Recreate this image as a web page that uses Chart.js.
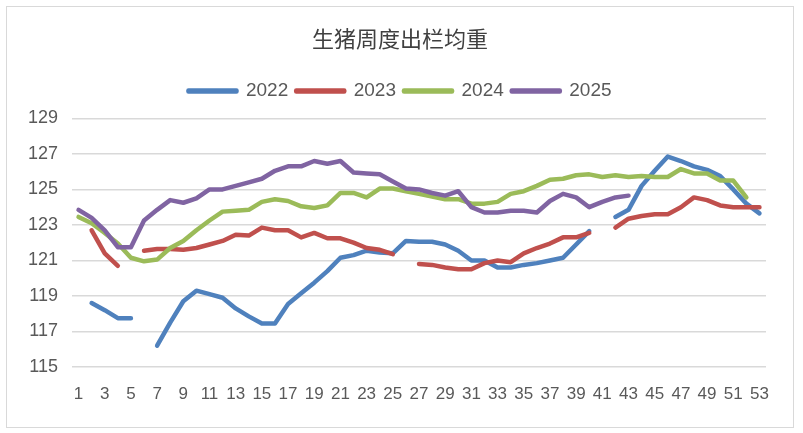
<!DOCTYPE html>
<html>
<head>
<meta charset="utf-8">
<script src="https://cdn.jsdelivr.net/npm/chart.js@4.4.1/dist/chart.umd.min.js"></script>
<style>
  html, body { margin: 0; padding: 0; background: #fff; }
  #frame { position: absolute; left: 6px; top: 6px; width: 786px; height: 420px; border: 1.5px solid #d9d9d9; }
  #wrap { position: absolute; left: 0; top: 0; width: 803px; height: 433px; }
</style>
</head>
<body>
<div id="frame"></div>
<div id="wrap"><canvas id="chart" width="803" height="433"></canvas></div>
<script>
const weeks = [];
for (let i = 1; i <= 53; i++) weeks.push(String(i));

const y2022 = [null, 118.6, 118.2, 117.75, 117.75, null, 116.2, 117.5, 118.7, 119.3,
  119.1, 118.9, 118.3, 117.85, 117.45, 117.45, 118.55, 119.15, 119.75, 120.4,
  121.15, 121.3, 121.55, 121.45, 121.4, 122.1, 122.05, 122.05, 121.9, 121.55,
  121.0, 121.0, 120.6, 120.6, 120.75, 120.85, 121.0, 121.15, 121.9, 122.65,
  null, 123.45, 123.85, 125.2, 126.05, 126.85, 126.6, 126.3, 126.1, 125.75,
  125.0, 124.2, 123.65];
const y2023 = [null, 122.7, 121.4, 120.7, null, 121.55, 121.65, 121.65, 121.6, 121.7,
  121.9, 122.1, 122.45, 122.4, 122.85, 122.7, 122.7, 122.3, 122.55, 122.25,
  122.25, 122.0, 121.7, 121.6, 121.35, null, 120.8, 120.75, 120.6, 120.5,
  120.5, 120.85, 121.0, 120.9, 121.4, 121.7, 121.95, 122.3, 122.3, 122.55,
  null, 122.85, 123.35, 123.5, 123.6, 123.6, 124.0, 124.55, 124.4, 124.1,
  124.0, 124.0, 124.0];
const y2024 = [123.45, 123.1, 122.55, 121.95, 121.15, 120.95, 121.05, 121.7, 122.1, 122.7,
  123.25, 123.75, 123.8, 123.85, 124.3, 124.45, 124.35, 124.05, 123.95, 124.1,
  124.8, 124.8, 124.55, 125.05, 125.05, 124.9, 124.75, 124.6, 124.45, 124.45,
  124.2, 124.2, 124.3, 124.75, 124.9, 125.2, 125.55, 125.6, 125.8, 125.85,
  125.7, 125.8, 125.7, 125.75, 125.7, 125.7, 126.15, 125.9, 125.9, 125.5,
  125.5, 124.55, null];
const y2025 = [123.85, 123.4, 122.7, 121.75, 121.75, 123.25, 123.85, 124.4, 124.25, 124.5,
  125.0, 125.0, 125.2, 125.4, 125.6, 126.05, 126.3, 126.3, 126.6, 126.45,
  126.6, 125.95, 125.9, 125.85, 125.45, 125.05, 125.0, 124.8, 124.65, 124.9,
  124.0, 123.7, 123.7, 123.8, 123.8, 123.7, 124.35, 124.75, 124.55, 124.0,
  124.3, 124.55, 124.65];

const seriesNames = ['2022', '2023', '2024', '2025'];
const colors = ['#4F81BD', '#C0504D', '#9BBB59', '#8064A2'];
const values = [y2022, y2023, y2024, y2025];

const textColor = '#595959';

const datasets = values.map((v, i) => ({
  label: seriesNames[i],
  data: v,
  borderColor: colors[i],
  backgroundColor: colors[i],
  borderWidth: 4.5,
  borderCapStyle: 'round',
  borderJoinStyle: 'round',
  pointRadius: 0,
  pointHoverRadius: 0,
  tension: 0,
  spanGaps: false,
  order: 3 - i
}));

// a bit of extra room under the legend, before the plot
const legendGap = {
  id: 'legendGap',
  beforeLayout(chart) {
    const lg = chart.legend;
    if (lg && !lg._gapPatched) {
      const fit = lg.fit.bind(lg);
      lg.fit = function () { fit(); this.height += 8; };
      lg._gapPatched = true;
    }
  }
};

const config = {
  type: 'line',
  data: { labels: weeks, datasets },
  plugins: [legendGap],
  options: {
    responsive: false,
    animation: false,
    layout: { padding: { top: 8, right: 3, bottom: 24, left: 0 } },
    plugins: {
      title: {
        display: true,
        text: '生猪周度出栏均重',
        color: '#404040',
        font: { family: '"Noto Sans CJK SC"', size: 22, weight: 'normal' },
        padding: { top: 17, bottom: 22 }
      },
      legend: {
        display: true,
        labels: {
          color: textColor,
          font: { family: '"Liberation Sans"', size: 19 },
          boxWidth: 48,
          boxHeight: 1,
          padding: 8,
          sort: (a, b) => a.datasetIndex - b.datasetIndex
        }
      },
      tooltip: { enabled: false }
    },
    scales: {
      x: {
        offset: true,
        grid: { display: false, drawTicks: false },
        border: { display: false },
        ticks: {
          autoSkip: false,
          maxRotation: 0,
          padding: 17,
          color: textColor,
          font: { family: '"Liberation Sans"', size: 17 },
          callback: function (val, idx) { return idx % 2 === 0 ? weeks[idx] : ''; }
        },
        afterFit: function (scale) { scale.height = 42; }
      },
      y: {
        min: 115,
        max: 129,
        grid: { color: '#d9d9d9', lineWidth: 1.5, drawTicks: false },
        border: { display: false },
        ticks: {
          stepSize: 2,
          padding: 14,
          color: textColor,
          font: { family: '"Liberation Sans"', size: 18 }
        },
        afterFit: function (scale) { scale.width = 72; }
      },
      yRight: {
        position: 'right',
        grid: { display: false, drawTicks: false },
        border: { display: false },
        ticks: { display: false },
        afterFit: function (scale) { scale.width = 34; }
      }
    }
  }
};

var chart = new Chart(document.getElementById('chart'), config);
</script>
</body>
</html>
